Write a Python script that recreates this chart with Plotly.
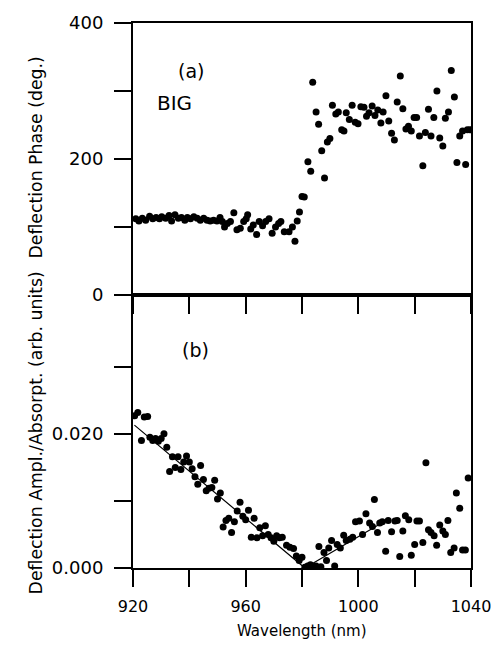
import plotly.graph_objects as go

# ---------------- data ----------------
phase_x = [921.0, 922.1, 923.3, 924.5, 925.9, 927.0, 928.2, 929.4, 930.2, 931.6, 932.8, 933.7,
           934.9, 936.1, 937.2, 938.4, 939.3, 940.4, 941.6, 942.8, 943.9, 945.1, 946.3, 947.4,
           948.6, 949.8, 950.9, 951.7, 952.5, 953.5, 954.6, 955.8, 956.9, 958.1, 959.3, 960.2,
           960.7, 961.8, 962.7, 963.9, 964.8, 966.0, 967.1, 968.3, 969.4, 970.6, 971.7, 972.5,
           973.7, 975.4, 976.6, 977.5, 978.3, 979.1, 980.0, 980.8,
           982.1, 983.1, 983.8, 985.0, 985.9, 987.0, 988.0, 989.0, 989.9, 990.8, 992.0, 992.9,
           994.1, 994.9, 995.7, 996.8, 997.8, 998.9, 999.9, 1000.9, 1002.0, 1002.9, 1003.8,
           1004.9, 1005.9, 1006.9, 1008.0, 1008.8, 1009.8, 1010.8, 1011.8, 1012.8, 1013.8,
           1014.9, 1015.8, 1016.9, 1017.8, 1018.8, 1019.8, 1020.7, 1021.7, 1022.9, 1023.8,
           1024.9, 1025.8, 1026.8, 1027.9, 1028.9, 1030.0, 1030.9, 1032.0, 1033.0, 1034.1,
           1035.0, 1036.0, 1037.0, 1038.1, 1038.7, 1039.6]
phase_y = [112, 109, 113, 110, 116, 112, 114, 112, 115, 113, 117, 109,
           118, 113, 114, 110, 114, 112, 115, 113, 110, 113, 110, 109,
           110, 109, 114, 108, 100, 105, 108, 121, 96, 98, 108, 112,
           118, 97, 103, 89, 108, 102, 108, 112, 91, 100, 105, 108,
           93, 93, 100, 79, 109, 122, 145, 144,
           196, 182, 313, 269, 251, 212, 172, 225, 230, 279, 266, 269,
           243, 241, 268, 258, 279, 254, 252, 277, 276, 263, 268,
           278, 264, 272, 253, 269, 293, 256, 238, 228, 284,
           322, 274, 244, 248, 241, 261, 261, 234, 190, 239,
           273, 234, 261, 300, 231, 219, 260, 269, 330, 291,
           195, 234, 241, 192, 243, 243]

ampl_x = [920.6, 921.7, 923.0, 924.0, 925.2, 926.0, 927.0, 928.0, 929.0, 930.0, 931.0, 932.0,
          933.0, 934.0, 935.0, 936.0, 937.0, 938.0, 939.0, 940.0, 941.0, 942.0, 943.0, 944.0,
          945.0, 946.0, 947.0, 948.0, 949.0, 950.0, 951.0, 952.0, 953.0, 954.0, 955.0, 956.0,
          957.0, 958.0, 959.0, 960.0, 961.0, 962.0, 963.0, 964.0, 965.0, 966.0, 967.0, 968.0,
          969.0, 970.0, 971.0, 972.0, 973.0, 974.5, 975.7, 977.0, 978.0, 979.0, 980.0, 981.0,
          982.0, 983.0, 984.0, 985.0, 986.0, 986.7, 987.8, 988.7, 989.5, 990.5, 991.6, 992.5,
          993.6, 994.8, 995.7, 997.0, 998.0, 999.0, 1000.4, 1001.5, 1002.7, 1004.0, 1005.0,
          1005.7, 1006.8, 1007.6, 1008.5, 1009.7, 1010.6, 1011.8, 1013.0, 1013.8, 1014.7,
          1015.8, 1016.7, 1017.9, 1018.8, 1020.0, 1020.8, 1021.7, 1022.9, 1024.0, 1024.9,
          1025.8, 1026.9, 1027.8, 1028.9, 1030.0, 1030.9, 1031.8, 1032.8, 1034.0, 1034.8,
          1036.0, 1037.0, 1038.0, 1039.0]
ampl_y = [0.0227, 0.0232, 0.0190, 0.0225, 0.0226, 0.0195, 0.0190, 0.0193, 0.0189, 0.0193, 0.0200, 0.0180,
          0.0144, 0.0166, 0.0150, 0.0166, 0.0147, 0.0158, 0.0167, 0.0158, 0.0148, 0.0136, 0.0125, 0.0153,
          0.0132, 0.0115, 0.0119, 0.0120, 0.0131, 0.0103, 0.0112, 0.0061, 0.0071, 0.0074, 0.0053, 0.0069,
          0.0085, 0.0098, 0.0077, 0.0072, 0.0086, 0.0046, 0.0074, 0.0045, 0.0060, 0.0048, 0.0063, 0.0050,
          0.0045, 0.0040, 0.0048, 0.0045, 0.0046, 0.0034, 0.0031, 0.0029, 0.0018, 0.0011, 0.0016, 0.0001,
          0.0003, 0.0005, 0.0002, 0.0003, 0.0032, 0.0002, 0.0023, 0.0011, 0.0030, 0.0041, 0.0003, 0.0035,
          0.0030, 0.0049, 0.0041, 0.0043, 0.0046, 0.0069, 0.0070, 0.0050, 0.0081, 0.0067, 0.0062,
          0.0102, 0.0053, 0.0067, 0.0069, 0.0025, 0.0071, 0.0054, 0.0070, 0.0071, 0.0017,
          0.0055, 0.0078, 0.0072, 0.0019, 0.0035, 0.0070, 0.0070, 0.0038, 0.0157, 0.0057,
          0.0053, 0.0048, 0.0034, 0.0064, 0.0055, 0.0050, 0.0071, 0.0023, 0.0030, 0.0112,
          0.0089, 0.0027, 0.0027, 0.0134]

fit_x = [920.5, 981.0, 1009.5]
fit_y = [0.0213, 0.0000, 0.0070]

x_tickvals = [920, 940, 960, 980, 1000, 1020, 1040]
x_ticktext = ["920", "", "960", "", "1000", "", "1040"]
phase_tickvals = [0, 100, 200, 300, 400]
phase_ticktext = ["0", "", "200", "", "400"]
ampl_tickvals = [0.0, 0.01, 0.02, 0.03]
ampl_ticktext = ["0.000", "", "0.020", ""]

FONT = "DejaVu Sans, Liberation Sans, Arial, sans-serif"
W, H = 503, 651
ML, MR, MT, MB = 133, 27, 15, 83
split = (568 - 291) / (H - MT - MB)

fig = go.Figure()
fig.add_trace(go.Scatter(x=phase_x, y=phase_y, mode="markers", xaxis="x2", yaxis="y2",
                         marker=dict(color="black", size=7), showlegend=False))
fig.add_trace(go.Scatter(x=ampl_x, y=ampl_y, mode="markers", xaxis="x", yaxis="y",
                         marker=dict(color="black", size=7), showlegend=False))
fig.add_trace(go.Scatter(x=fit_x, y=fit_y, mode="lines", xaxis="x", yaxis="y",
                         line=dict(color="black", width=1.2), showlegend=False))

axis_common = dict(showgrid=False, zeroline=False, showline=True, linecolor="black",
                   linewidth=2, mirror=True, ticks="outside", ticklen=17, tickwidth=1.5,
                   tickcolor="black")

fig.update_layout(
    width=W, height=H, autosize=False,
    margin=dict(l=ML, r=MR, t=MT, b=MB),
    paper_bgcolor="white", plot_bgcolor="white",
    xaxis=dict(axis_common, domain=[0, 1], anchor="y", range=[920, 1040],
               tickvals=x_tickvals, ticktext=x_ticktext, ticklabelstandoff=6,
               tickfont=dict(family=FONT, size=16, color="black")),
    xaxis2=dict(axis_common, domain=[0, 1], anchor="y2", range=[920, 1040],
                matches="x", tickvals=x_tickvals, showticklabels=False),
    yaxis=dict(axis_common, domain=[0, split], anchor="x", range=[0, 0.0407],
               tickvals=ampl_tickvals, ticktext=ampl_ticktext, ticklabelstandoff=7,
               tickfont=dict(family=FONT, size=18, color="black")),
    yaxis2=dict(axis_common, domain=[split, 1], anchor="x2", range=[0, 400],
                tickvals=phase_tickvals, ticktext=phase_ticktext, ticklabelstandoff=7,
                tickfont=dict(family=FONT, size=18, color="black")),
)

def px_to_paper_y(py):
    return (H - MB - py) / (H - MT - MB)

def px_to_paper_x(px):
    return (px - ML) / (W - ML - MR)

annotations = [
    dict(text="(a)", x=940.6, y=330, xref="x2", yref="y2", showarrow=False,
         font=dict(family=FONT, size=19, color="black")),
    dict(text="BIG", x=934.8, y=283, xref="x2", yref="y2", showarrow=False,
         font=dict(family=FONT, size=20, color="black")),
    dict(text="(b)", x=942.3, y=0.0325, xref="x", yref="y", showarrow=False,
         font=dict(family=FONT, size=19, color="black")),
    dict(text="Deflection Phase (deg.)", x=px_to_paper_x(35), y=px_to_paper_y(151),
         xref="paper", yref="paper", textangle=-90, showarrow=False,
         xanchor="center", yanchor="middle", font=dict(family=FONT, size=17.3, color="black")),
    dict(text="Deflection Ampl./Absorpt. (arb. units)", x=px_to_paper_x(35), y=px_to_paper_y(431),
         xref="paper", yref="paper", textangle=-90, showarrow=False,
         xanchor="center", yanchor="middle", font=dict(family=FONT, size=17.3, color="black")),
    dict(text="Wavelength (nm)", x=px_to_paper_x(305), y=px_to_paper_y(632),
         xref="paper", yref="paper", showarrow=False, xanchor="center", yanchor="middle",
         font=dict(family=FONT, size=15, color="black")),
]
fig.update_layout(annotations=annotations)

fig.write_html("out.html", config={"displayModeBar": False},
               post_script="document.body.style.margin='0';document.body.style.padding='0';")
